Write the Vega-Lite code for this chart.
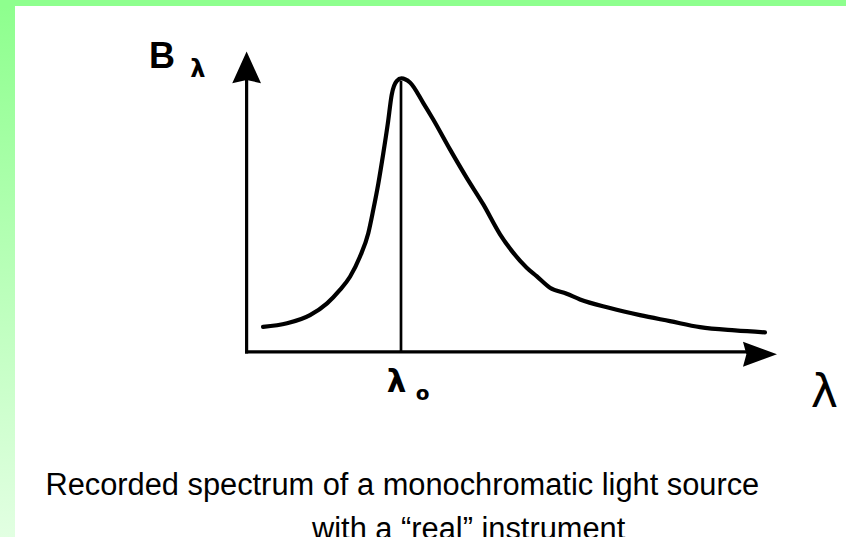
{
  "$schema": "https://vega.github.io/schema/vega-lite/v6.json",
  "padding": 0,
  "background": "white",
  "config": {"view": {"stroke": null}, "concat": {"spacing": 0}},
  "vconcat": [
    {
      "width": 846,
      "height": 6,
      "data": {"values": [{}]},
      "mark": {"type": "rect", "fill": "#8EFF8E", "strokeWidth": 0},
      "encoding": {}
    },
    {
      "hconcat": [
        {
          "width": 15,
          "height": 531,
          "data": {"values": [{}]},
          "mark": {
            "type": "rect",
            "strokeWidth": 0,
            "fill": {
              "gradient": "linear",
              "x1": 0, "y1": 0, "x2": 0, "y2": 1,
              "stops": [
                {"offset": 0, "color": "#8EFF8E"},
                {"offset": 1, "color": "#E2FFE2"}
              ]
            }
          },
          "encoding": {}
        },
        {
          "width": 831,
          "height": 531,
          "encoding": {
            "x": {"field": "lambda", "type": "quantitative", "scale": {"domain": [-1.4903, 3.871], "nice": false, "zero": false}, "axis": null},
            "y": {"field": "B", "type": "quantitative", "scale": {"domain": [-0.6788, 1.2591], "nice": false, "zero": false}, "axis": null}
          },
          "layer": [
            {
              "data": {"values": [{"lambda": 0.004, "B": -0.003, "B2": 1.0}]},
              "mark": {"type": "rule", "color": "black", "strokeWidth": 3.2, "strokeCap": "square"},
              "encoding": {"y2": {"field": "B2"}}
            },
            {
              "data": {"values": [{"lambda": 0.004, "lambda2": 3.25, "B": -0.003}]},
              "mark": {"type": "rule", "color": "black", "strokeWidth": 3.2, "strokeCap": "square"},
              "encoding": {"x2": {"field": "lambda2"}}
            },
            {
              "data": {"values": [{"lambda": 1.0, "B": -0.003, "B2": 0.985}]},
              "mark": {"type": "rule", "color": "black", "strokeWidth": 2.7},
              "encoding": {"y2": {"field": "B2"}}
            },
            {
              "data": {"values": [{"lambda": 0.004, "B": 1.035}]},
              "mark": {"type": "point", "shape": "M0,-1L0.91,1L0,0.8L-0.91,1Z", "size": 1000, "filled": true, "color": "black", "opacity": 1, "strokeWidth": 0}
            },
            {
              "data": {"values": [{"lambda": 3.316, "B": -0.012}]},
              "mark": {"type": "point", "shape": "M1,0L-1,0.735L-0.8,0L-1,-0.735Z", "size": 1156, "filled": true, "color": "black", "opacity": 1, "strokeWidth": 0}
            },
            {
              "data": {"values": [
                {"lambda": 0.110, "B": 0.088}, {"lambda": 0.265, "B": 0.101}, {"lambda": 0.413, "B": 0.131},
                {"lambda": 0.523, "B": 0.174}, {"lambda": 0.606, "B": 0.223}, {"lambda": 0.671, "B": 0.271},
                {"lambda": 0.735, "B": 0.344}, {"lambda": 0.789, "B": 0.430}, {"lambda": 0.821, "B": 0.515},
                {"lambda": 0.854, "B": 0.612}, {"lambda": 0.886, "B": 0.722}, {"lambda": 0.915, "B": 0.830},
                {"lambda": 0.940, "B": 0.935}, {"lambda": 0.972, "B": 0.985}, {"lambda": 1.003, "B": 0.995},
                {"lambda": 1.058, "B": 0.980}, {"lambda": 1.144, "B": 0.905}, {"lambda": 1.208, "B": 0.845},
                {"lambda": 1.316, "B": 0.736}, {"lambda": 1.424, "B": 0.632}, {"lambda": 1.531, "B": 0.535},
                {"lambda": 1.639, "B": 0.426}, {"lambda": 1.725, "B": 0.358}, {"lambda": 1.811, "B": 0.304},
                {"lambda": 1.875, "B": 0.273}, {"lambda": 1.961, "B": 0.231}, {"lambda": 2.069, "B": 0.209},
                {"lambda": 2.155, "B": 0.188}, {"lambda": 2.348, "B": 0.157}, {"lambda": 2.542, "B": 0.131},
                {"lambda": 2.735, "B": 0.109}, {"lambda": 2.929, "B": 0.087}, {"lambda": 3.155, "B": 0.075},
                {"lambda": 3.348, "B": 0.068}
              ]},
              "mark": {"type": "line", "color": "black", "strokeWidth": 4.2, "interpolate": "monotone", "strokeCap": "round", "strokeJoin": "round"}
            },
            {
              "data": {"values": [{"text": "B", "lambda": -0.626, "B": 1.033}]},
              "mark": {"type": "text", "font": "Liberation Sans", "fontWeight": "bold", "fontSize": 36, "align": "left", "baseline": "alphabetic", "color": "black"},
              "encoding": {"text": {"field": "text"}}
            },
            {
              "data": {"values": [{"text": "λ", "lambda": -0.31, "B": 1.0}]},
              "mark": {"type": "text", "font": "DejaVu Sans", "fontWeight": "bold", "fontSize": 24, "align": "center", "baseline": "alphabetic", "color": "black"},
              "encoding": {"text": {"field": "text"}}
            },
            {
              "data": {"values": [{"text": "λ", "lambda": 0.971, "B": -0.150}]},
              "mark": {"type": "text", "font": "DejaVu Sans", "fontWeight": "bold", "fontSize": 31, "align": "center", "baseline": "alphabetic", "color": "black"},
              "encoding": {"text": {"field": "text"}}
            },
            {
              "data": {"values": [{"text": "o", "lambda": 1.139, "B": -0.179}]},
              "mark": {"type": "text", "font": "DejaVu Sans", "fontWeight": "bold", "fontSize": 20, "align": "center", "baseline": "alphabetic", "color": "black"},
              "encoding": {"text": {"field": "text"}}
            },
            {
              "data": {"values": [{"text": "λ", "lambda": 3.732, "B": -0.204}]},
              "mark": {"type": "text", "font": "DejaVu Sans", "fontSize": 46, "align": "center", "baseline": "alphabetic", "color": "black"},
              "encoding": {"text": {"field": "text"}}
            },
            {
              "data": {"values": [
                {"text": "Recorded spectrum of a monochromatic light source", "lambda": -1.294, "B": -0.526},
                {"text": "with a “real” instrument", "lambda": 0.426, "B": -0.686}
              ]},
              "mark": {"type": "text", "font": "Liberation Sans", "fontSize": 30.8, "align": "left", "baseline": "alphabetic", "color": "black"},
              "encoding": {"text": {"field": "text"}}
            }
          ]
        }
      ],
      "spacing": 0
    }
  ],
  "spacing": 0
}
